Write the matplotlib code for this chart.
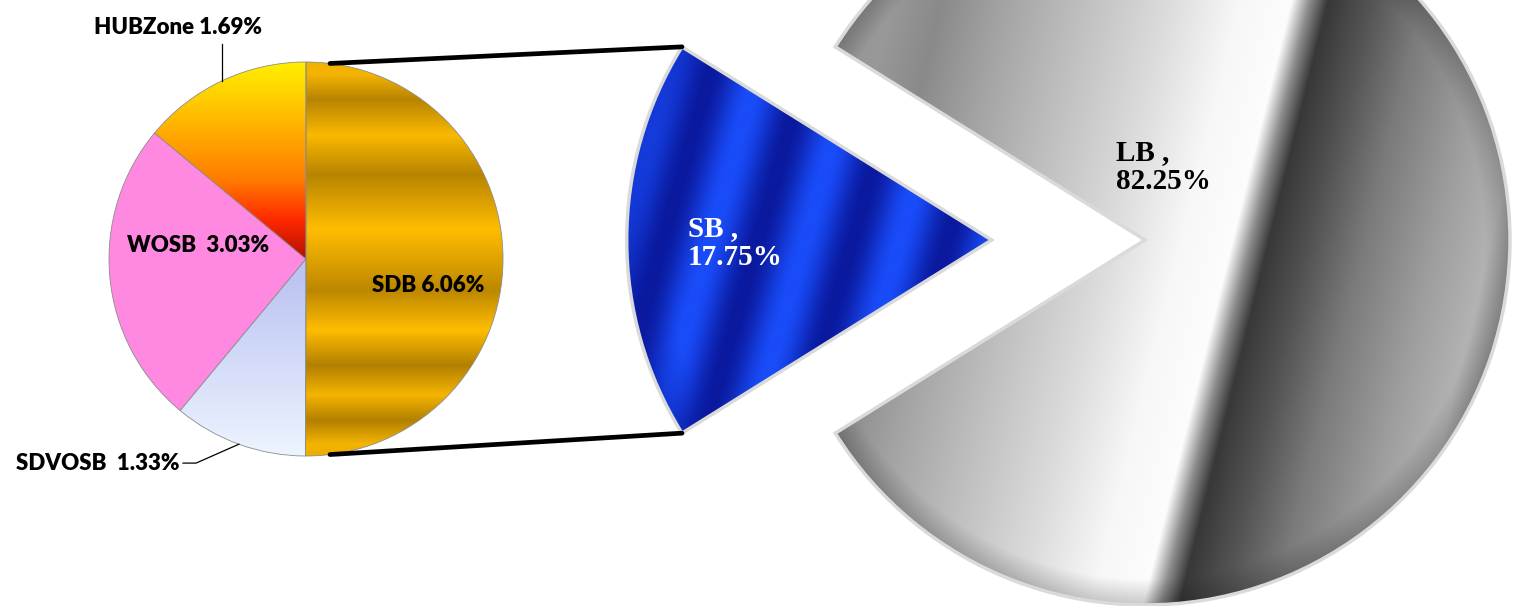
import numpy as np
import matplotlib
matplotlib.use('Agg')
import matplotlib.pyplot as plt
from matplotlib.patches import ConnectionPatch

# ---- data ----
main_labels = ['SB', 'LB']
main_values = [17.75, 82.25]
sub_labels = ['SDB', 'SDVOSB', 'WOSB', 'HUBZone']
sub_values = [6.06, 1.33, 3.03, 1.69]

W, H = 1527, 606
fig = plt.figure(figsize=(W / 100, H / 100), dpi=100)


def place_axes(cx, cy, r, xl, yl):
    # axes whose data units are pie radii, centred at pixel (cx, cy) (y from bottom)
    return fig.add_axes([(cx + xl[0] * r) / W, (cy + yl[0] * r) / H,
                         (xl[1] - xl[0]) * r / W, (yl[1] - yl[0]) * r / H])


def paint(ax, wedge, rgb, extent):
    im = ax.imshow(rgb, extent=extent, origin='lower', aspect='auto',
                   interpolation='bilinear', zorder=1)
    im.set_clip_path(wedge)
    wedge.set_facecolor('none')
    wedge.set_zorder(2)


def mix(c0, c1, t):
    c0, c1 = np.array(c0), np.array(c1)
    return c0 + (c1 - c0) * t[..., None]


# ---- big pie (SB / LB) ----
R1 = 365
xl1, yl1 = (-1.5, 1.1), (-1.05, 1.05)
ax1 = place_axes(1145, H - 240, R1, xl1, yl1)
start1 = 180 - main_values[0] / sum(main_values) * 180
w1, _ = ax1.pie(main_values, startangle=start1, explode=[0.42, 0],
                wedgeprops=dict(edgecolor='#dadada', linewidth=2.5))

uu, vv = np.meshgrid(np.linspace(xl1[0], xl1[1], 900), np.linspace(yl1[0], yl1[1], 730))
ext1 = [xl1[0], xl1[1], yl1[0], yl1[1]]

# LB: grey with a tilted white streak and a dark band
s = uu - 0.246 * vv
sp = [-1.2, -0.86, -0.72, -0.55, -0.35, -0.1, 0.1, 0.24, 0.29, 0.34, 0.45, 0.6, 0.8, 0.95, 1.1]
gp = [0.52, 0.60, 0.54, 0.64, 0.74, 0.86, 0.97, 0.99, 0.55, 0.22, 0.32, 0.48, 0.62, 0.70, 0.55]
g = np.interp(s, sp, gp)
rr = np.hypot(uu, vv)
g = g * (1 - 0.2 * np.clip((rr - 0.93) / 0.07, 0, 1))
paint(ax1, w1[1], np.dstack([g, g, g]), ext1)

# SB: blue stripes
cxs, cys = w1[0].center
t = 0.5 + 0.5 * np.cos(2 * np.pi * ((uu - 0.28 * vv) + 1.192) / 0.26)
rs = np.hypot(uu - cxs, vv - cys)
t = t * (1 - 0.4 * np.clip((rs - 0.9) / 0.1, 0, 1))
paint(ax1, w1[0], np.clip(mix((0.04, 0.1, 0.62), (0.1, 0.3, 0.98), t), 0, 1), ext1)

ax1.set_xlim(*xl1)
ax1.set_ylim(*yl1)
ax1.axis('off')

# ---- small pie (SB breakdown) ----
R2 = 197
xl2 = yl2 = (-1.1, 1.1)
ax2 = place_axes(306, H - 259, R2, xl2, yl2)
w2, _ = ax2.pie(sub_values, startangle=90, counterclock=False,
                wedgeprops=dict(edgecolor='#8c8c8c', linewidth=0.6))

x2, y2 = np.meshgrid(np.linspace(-1.1, 1.1, 500), np.linspace(-1.1, 1.1, 500))
ext2 = [-1.1, 1.1, -1.1, 1.1]

# SDB: gold horizontal bands
bv = [-1.0, -0.94, -0.82, -0.69, -0.54, -0.36, -0.16, 0.15, 0.43, 0.63, 0.81, 0.94, 1.0]
bt = [0.8, 0.9, 0.25, 0.9, 0.25, 1.0, 0.35, 1.0, 0.3, 0.95, 0.3, 0.9, 0.85]
t = np.interp(y2, bv, bt)
paint(ax2, w2[0], mix((0.6, 0.42, 0.0), (1.0, 0.74, 0.0), t), ext2)

# SDVOSB: pale lavender
t = np.clip((-y2 - 0.1) / 0.9, 0, 1)
paint(ax2, w2[1], mix((0.74, 0.77, 0.95), (0.93, 0.96, 1.0), t), ext2)

# WOSB: flat pink
w2[2].set_facecolor('#ff88e0')

# HUBZone: yellow -> orange -> red
hv = [0.0, 0.2, 0.4, 0.7, 1.0]
hc = np.array([[0.70, 0.06, 0.0], [1.0, 0.16, 0.0], [1.0, 0.48, 0.0], [1.0, 0.72, 0.0], [1.0, 0.94, 0.0]])
rgb = np.dstack([np.interp(y2, hv, hc[:, k]) for k in range(3)])
paint(ax2, w2[3], rgb, ext2)

ax2.set_xlim(*xl2)
ax2.set_ylim(*yl2)
ax2.axis('off')

# leader lines for the two outside labels
th = np.deg2rad((w2[3].theta1 + w2[3].theta2) / 2)
ax2.plot([np.cos(th), np.cos(th)], [np.sin(th), 1.09], color='black', lw=0.9, clip_on=False)
th = np.deg2rad((w2[1].theta1 + w2[1].theta2) / 2)
ax2.plot([np.cos(th), -0.558, -0.624], [np.sin(th), -1.036, -1.036], color='black', lw=0.9, clip_on=False)

# connector lines between the SB wedge and the breakdown pie
sb = w1[0]
for a_small, a_big in [(83, sb.theta1), (-83, sb.theta2)]:
    pa = (np.cos(np.deg2rad(a_small)), np.sin(np.deg2rad(a_small)))
    pb = (sb.center[0] + np.cos(np.deg2rad(a_big)), sb.center[1] + np.sin(np.deg2rad(a_big)))
    con = ConnectionPatch(xyA=pa, coordsA=ax2.transData, xyB=pb, coordsB=ax1.transData,
                          color='black', lw=3.4, zorder=5)
    fig.add_artist(con)

# ---- labels (pixel coordinates) ----
ax0 = fig.add_axes([0, 0, 1, 1])
ax0.set_xlim(0, W)
ax0.set_ylim(H, 0)
ax0.axis('off')

sans = dict(family=['Lato', 'DejaVu Sans'], weight='heavy', fontsize=16, color='black')
serif = dict(family=['Liberation Serif', 'DejaVu Serif'], weight='bold', fontsize=21, linespacing=1.1)

ax0.text(178, 27, f'{sub_labels[3]} {sub_values[3]:.2f}%', ha='center', va='center', **sans)
ax0.text(198, 245, f'{sub_labels[2]}  {sub_values[2]:.2f}%', ha='center', va='center', **sans)
ax0.text(428, 285, f'{sub_labels[0]} {sub_values[0]:.2f}%', ha='center', va='center', **sans)
ax0.text(180, 463, f'{sub_labels[1]}  {sub_values[1]:.2f}%', ha='right', va='center', **sans)

ax0.text(688, 215, f'{main_labels[0]} ,\n{main_values[0]:.2f}%', ha='left', va='top', color='white', **serif)
ax0.text(1116, 139, f'{main_labels[1]} ,\n{main_values[1]:.2f}%', ha='left', va='top', color='black', **serif)

fig.savefig('out.png', dpi=100)
